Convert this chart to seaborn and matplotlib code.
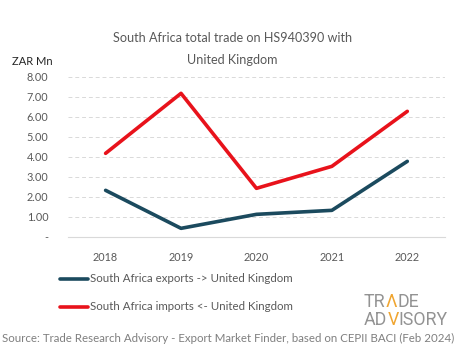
import pandas as pd
import numpy as np
import matplotlib.pyplot as plt
import seaborn as sns

years = ['2018', '2019', '2020', '2021', '2022']
exports = [2.33, 0.43, 1.13, 1.33, 3.78]
imports = [4.18, 7.18, 2.43, 3.53, 6.28]
series_names = ['South Africa exports -> United Kingdom', 'South Africa imports <- United Kingdom']
yticks = [0, 1, 2, 3, 4, 5, 6, 7, 8]

sns.set_theme(style='white')
plt.rcParams['font.family'] = ['Lato', 'DejaVu Sans']

txt = '#595959'
colors = {series_names[0]: '#1b4a5e', series_names[1]: '#e8121b'}

df = pd.DataFrame({
    'year': years * 2,
    'value': exports + imports,
    'series': [series_names[0]] * 5 + [series_names[1]] * 5,
})

fig = plt.figure(figsize=(4.65, 3.59), dpi=100)
ax = fig.add_axes([0.146, 0.34, 0.811, 0.4457])

sns.lineplot(data=df, x='year', y='value', hue='series', palette=colors,
             linewidth=2.6, ax=ax, legend=False, sort=False)

ax.set_xlim(-0.5, 4.5)
ax.set_ylim(0, 8)
ax.set_yticks(yticks)
ax.set_yticklabels(['-'] + [f'{v:.2f}' for v in yticks[1:]])
ax.yaxis.grid(True, linestyle=(0, (4, 3)), color='#d9d9d9', linewidth=0.7)
ax.set_axisbelow(True)
for s in ['top', 'right', 'left']:
    ax.spines[s].set_visible(False)
ax.spines['bottom'].set_color('#d9d9d9')
ax.spines['bottom'].set_linewidth(0.8)
ax.tick_params(axis='both', length=0, labelsize=7.8, colors=txt)
ax.tick_params(axis='x', pad=11)
ax.tick_params(axis='y', pad=14)
ax.set_xlabel('')
ax.set_ylabel('')

fig.text(0.5, 0.895, 'South Africa total trade on HS940390 with', ha='center', va='center',
         fontsize=9.1, color=txt)
fig.text(0.5, 0.834, 'United Kingdom', ha='center', va='center', fontsize=9.1, color=txt)
fig.text(0.025, 0.83, 'ZAR Mn', ha='left', va='center', fontsize=8, color='#262626')

# legend drawn manually below the axes
for i, name in enumerate(series_names):
    yy = 1 - (279 + 28 * i) / 359
    fig.add_artist(plt.Line2D([60 / 465, 88 / 465], [yy, yy], color=colors[name],
                              linewidth=2.6, transform=fig.transFigure))
    fig.text(90 / 465, yy, name, ha='left', va='center', fontsize=8.3, color=txt)

# logo
logo_gray = '#939393'
logo_org = '#f0a530'
lf = ['Roboto', 'DejaVu Sans']
fs = 12.8
t1 = fig.text(364 / 465, 1 - 307 / 359, 'TR', ha='left', va='baseline', fontsize=fs,
              color=logo_gray, family=lf)
t2 = ax.annotate('\u039b', xy=(1, 0), xycoords=t1, va='bottom', fontsize=fs,
                 color=logo_org, family=lf, annotation_clip=False)
ax.annotate('DE', xy=(1, 0), xycoords=t2, va='bottom', fontsize=fs,
            color=logo_gray, family=lf, annotation_clip=False)
t4 = fig.text(364 / 465, 1 - 325 / 359, 'AD', ha='left', va='baseline', fontsize=fs,
              color=logo_gray, family=lf)
t5 = ax.annotate('V', xy=(1, 0), xycoords=t4, va='bottom', fontsize=fs,
                 color=logo_org, family=lf, annotation_clip=False)
ax.annotate('ISORY', xy=(1, 0), xycoords=t5, va='bottom', fontsize=fs,
            color=logo_gray, family=lf, annotation_clip=False)

fig.text(0.004, 1 - 338 / 359,
         'Source: Trade Research Advisory - Export Market Finder, based on CEPII BACI (Feb 2024)',
         ha='left', va='center', fontsize=8.3, color='#7f7f7f')

fig.savefig('out.png', dpi=100, facecolor='white')
